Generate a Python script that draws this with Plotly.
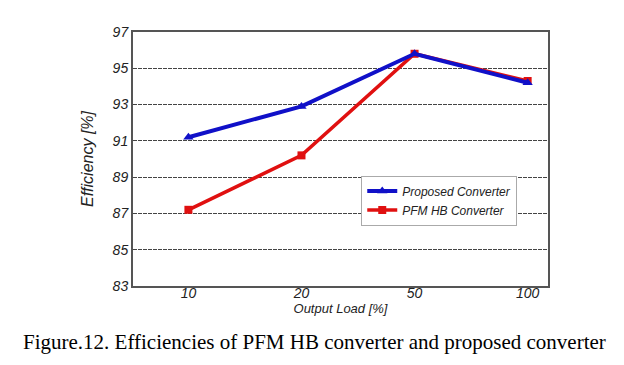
import plotly.graph_objects as go

loads = ["10", "20", "50", "100"]
proposed = [91.2, 92.9, 95.8, 94.2]
pfm_hb = [87.2, 90.2, 95.8, 94.3]
y_ticks = [83, 85, 87, 89, 91, 93, 95, 97]

fig = go.Figure()
fig.add_trace(go.Scatter(
    x=[0, 1, 2, 3], y=pfm_hb, mode="lines+markers", name="PFM HB Converter",
    line=dict(color="#e01010", width=3.5),
    marker=dict(symbol="square", size=8, color="#e01010"),
))
fig.add_trace(go.Scatter(
    x=[0, 1, 2, 3], y=proposed, mode="lines+markers", name="Proposed Converter",
    line=dict(color="#1010c8", width=4),
    marker=dict(symbol="triangle-up", size=9, color="#1010c8"),
))

fig.update_layout(
    width=624, height=365,
    margin=dict(l=125, r=84, t=24, b=87),
    paper_bgcolor="white", plot_bgcolor="white",
    font=dict(family="Liberation Sans, Arial, sans-serif", color="#222", size=12),
    showlegend=True,
    legend=dict(
        x=0.55, y=0.435, xanchor="left", yanchor="top",
        bgcolor="white", bordercolor="#aaaaaa", borderwidth=1,
        traceorder="reversed", itemwidth=30,
        font=dict(size=12, family="Liberation Sans, Arial, sans-serif", style="italic", color="#222"),
    ),
    xaxis=dict(
        range=[-0.49, 3.18],
        tickmode="array", tickvals=[0, 1, 2, 3], ticktext=loads,
        showgrid=False, zeroline=False,
        showline=True, linecolor="#555", linewidth=2, mirror=True,
        ticks="", tickfont=dict(size=14, style="italic"),
        ticklabelstandoff=-7,
        title=dict(text="Output Load [%]", font=dict(size=13, style="italic"), standoff=4),
    ),
    yaxis=dict(
        range=[83, 97],
        tickmode="array", tickvals=y_ticks,
        showgrid=True, gridcolor="#444", griddash="4px,1px", gridwidth=1,
        zeroline=False,
        showline=True, linecolor="#555", linewidth=2, mirror=True,
        ticks="", tickfont=dict(size=14, style="italic"),
        title=dict(text="Efficiency [%]", font=dict(size=16, style="italic"), standoff=15),
    ),
)

fig.add_annotation(
    text="Figure.12. Efficiencies of PFM HB converter and proposed converter",
    xref="paper", yref="paper", x=-0.2695, y=-0.165, xanchor="left", yanchor="top",
    showarrow=False,
    font=dict(family="Liberation Serif, Times New Roman, serif", size=21, color="black"),
)

fig.write_html("out.html")
